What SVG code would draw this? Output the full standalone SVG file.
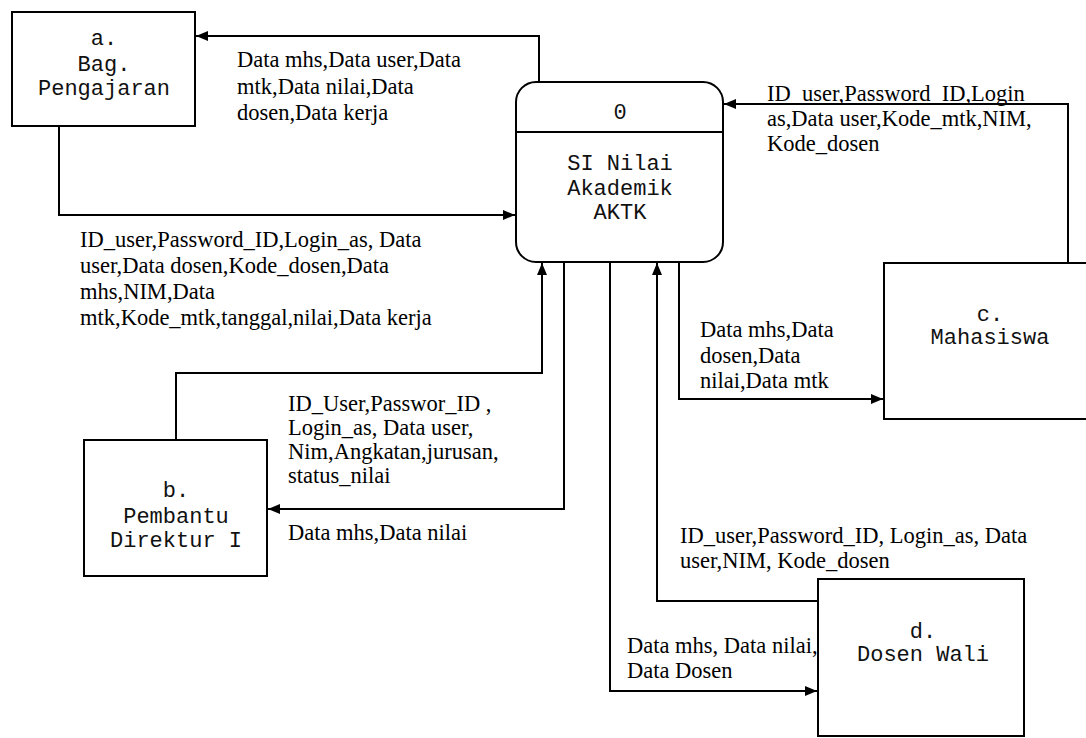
<svg xmlns="http://www.w3.org/2000/svg" width="1086" height="738" viewBox="0 0 1086 738">
<defs>
<marker id="arr" markerWidth="12" markerHeight="10" refX="12" refY="5" orient="auto" markerUnits="userSpaceOnUse">
<path d="M0,0 L12,5 L0,10 Z" fill="#000"/>
</marker>
<style>
.box{fill:#fff;stroke:#000;stroke-width:2}
.mono{font-family:"Liberation Mono","Courier New",monospace;font-size:22px;fill:#111;text-anchor:middle}
.lbl{font-family:"Liberation Serif","Times New Roman",serif;font-size:22.5px;fill:#000}
.conn path{fill:none;stroke:#000;stroke-width:2;marker-end:url(#arr)}
</style>
</defs>
<rect width="1086" height="738" fill="#fff"/>
<g class="conn" id="connectors">
<path d="M539,82 V36 H196"/>
<path d="M59,126 V215 H515"/>
<path d="M176,440 V373 H542 V263"/>
<path d="M564,262 V509 H268"/>
<path d="M610,262 V691 H817"/>
<path d="M818,601 H657 V263"/>
<path d="M679,262 V399 H883"/>
<path d="M1068,263 V104 H724"/>
</g>
<g id="node-a">
<rect class="box" x="12" y="12" width="183" height="114"/>
<text class="mono" x="104" y="45">a.</text>
<text class="mono" x="104" y="71">Bag.</text>
<text class="mono" x="104" y="95">Pengajaran</text>
</g>
<g id="node-0">
<rect class="box" x="516" y="82" width="207" height="180" rx="20" ry="20"/>
<line x1="516" y1="132" x2="723" y2="132" stroke="#000" stroke-width="2"/>
<text class="mono" x="620" y="119">0</text>
<text class="mono" x="620" y="170">SI Nilai</text>
<text class="mono" x="620" y="195">Akademik</text>
<text class="mono" x="620" y="219">AKTK</text>
</g>
<g id="node-b">
<rect class="box" x="84" y="440" width="183" height="136"/>
<text class="mono" x="176" y="497">b.</text>
<text class="mono" x="176" y="523">Pembantu</text>
<text class="mono" x="176" y="547">Direktur I</text>
</g>
<g id="node-c">
<rect class="box" x="884" y="263" width="210" height="156"/>
<text class="mono" x="990" y="321">c.</text>
<text class="mono" x="990" y="344">Mahasiswa</text>
</g>
<g id="node-d">
<rect class="box" x="818" y="579" width="206" height="157"/>
<text class="mono" x="923" y="638">d.</text>
<text class="mono" x="923" y="661">Dosen Wali</text>
</g>
<g id="labels">
<text class="lbl" x="237" y="67">Data mhs,Data user,Data</text>
<text class="lbl" x="237" y="94">mtk,Data nilai,Data</text>
<text class="lbl" x="237" y="120">dosen,Data kerja</text>
<text class="lbl" x="80" y="247">ID_user,Password_ID,Login_as, Data</text>
<text class="lbl" x="80" y="273">user,Data dosen,Kode_dosen,Data</text>
<text class="lbl" x="80" y="299">mhs,NIM,Data</text>
<text class="lbl" x="80" y="325">mtk,Kode_mtk,tanggal,nilai,Data kerja</text>
<text class="lbl" x="288" y="411">ID_User,Passwor_ID ,</text>
<text class="lbl" x="288" y="435">Login_as, Data user,</text>
<text class="lbl" x="288" y="459">Nim,Angkatan,jurusan,</text>
<text class="lbl" x="288" y="483">status_nilai</text>
<text class="lbl" x="288" y="540">Data mhs,Data nilai</text>
<text class="lbl" x="767" y="101">ID_user,Password_ID,Login</text>
<text class="lbl" x="767" y="126">as,Data user,Kode_mtk,NIM,</text>
<text class="lbl" x="767" y="151">Kode_dosen</text>
<text class="lbl" x="700" y="337">Data mhs,Data</text>
<text class="lbl" x="700" y="363">dosen,Data</text>
<text class="lbl" x="700" y="388">nilai,Data mtk</text>
<text class="lbl" x="680" y="543">ID_user,Password_ID, Login_as, Data</text>
<text class="lbl" x="680" y="568">user,NIM, Kode_dosen</text>
<text class="lbl" x="627" y="653">Data mhs, Data nilai,</text>
<text class="lbl" x="627" y="678">Data Dosen</text>
</g>
</svg>
